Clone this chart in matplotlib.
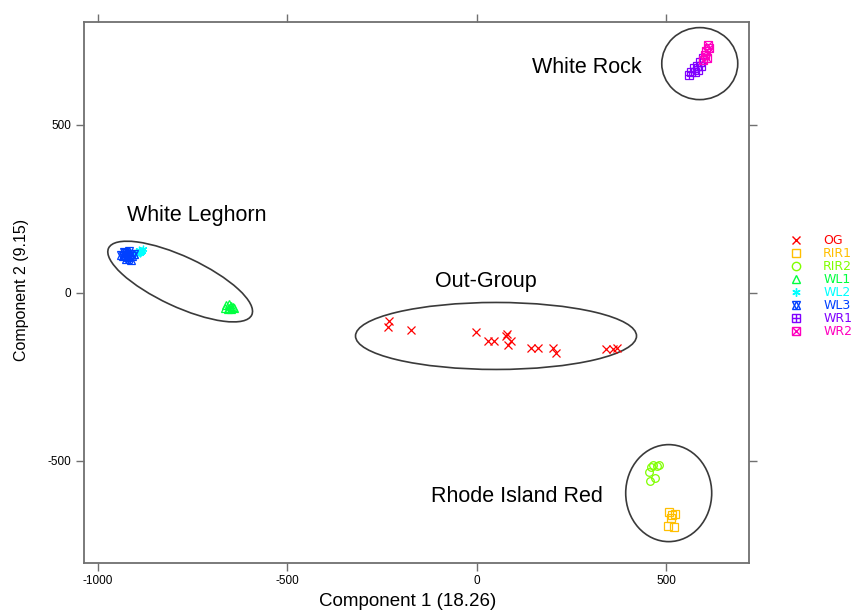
import matplotlib
matplotlib.use("Agg")
import matplotlib.pyplot as plt
import matplotlib.transforms as mtransforms
from matplotlib.lines import Line2D
from matplotlib.patches import Ellipse

plt.rcParams["font.family"] = ["Liberation Sans", "DejaVu Sans"]

# PCA scores (Component 1, Component 2)
og_x = [-232, -235, -174, -3, 29, 45, 79, 77, 90, 82, 143, 161, 201, 209, 341, 359, 370]
og_y = [-83, -101, -110, -116, -143, -143, -122, -128, -143, -155, -164, -164, -164, -179, -167, -167, -164]
rir1_x = [507, 523, 512, 504, 520, 515]
rir1_y = [-652, -658, -670, -696, -699, -662]
rir2_x = [465, 481, 454, 457, 470, 475, 460]
rir2_y = [-512, -512, -533, -560, -551, -515, -520]
wl1_x = [-662, -655, -648, -658, -650, -665, -643, -653, -640]
wl1_y = [-38, -45, -40, -50, -48, -46, -44, -35, -47]
wl2_x = [-900, -893, -885, -890, -880, -897, -887]
wl2_y = [122, 128, 125, 118, 130, 115, 120]
wl3_x = [-935, -928, -920, -915, -925, -910, -930, -918, -905, -940, -922, -912]
wl3_y = [110, 118, 105, 115, 100, 108, 122, 125, 115, 112, 112, 98]
wr1_x = [597, 589, 581, 573, 565, 576, 560, 584, 592]
wr1_y = [699, 688, 676, 670, 658, 658, 649, 664, 676]
wr2_x = [611, 614, 605, 602, 608, 597]
wr2_y = [738, 729, 720, 708, 699, 693]

groups = ["OG", "RIR1", "RIR2", "WL1", "WL2", "WL3", "WR1", "WR2"]
colors = ["#FF0000", "#FFBF00", "#80FF00", "#00FF40", "#00FFFF", "#0040FF", "#8000FF", "#FF00BF"]
xs = [og_x, rir1_x, rir2_x, wl1_x, wl2_x, wl3_x, wr1_x, wr2_x]
ys = [og_y, rir1_y, rir2_y, wl1_y, wl2_y, wl3_y, wr1_y, wr2_y]
# each group drawn as one or more overlaid marker shapes
shapes = [["x"], ["s"], ["o"], ["^"], [(6, 2, 0)], ["^", "v"], ["s", "+"], ["s", "x"]]

# cluster labels and ellipses (center in data units, axes in pixels, angle)
cluster_names = ["White Rock", "White Leghorn", "Out-Group", "Rhode Island Red"]
cluster_label_pos = [(290, 670), (-740, 229), (24, 33), (105, -607)]
ellipses = [((589, 682), 76, 72, 0), ((-783, 33), 158, 50, -25),
            ((51, -129), 281, 67, 0), ((507, -597), 86, 97, 0)]

fig = plt.figure(figsize=(8.63, 6.12), dpi=100)
ax = fig.add_axes([0.0973, 0.0801, 0.7706, 0.8840])

for gx, gy, col, shp in zip(xs, ys, colors, shapes):
    for m in shp:
        ax.plot(gx, gy, linestyle="none", marker=m, markersize=5.5,
                markerfacecolor="none", markeredgecolor=col, markeredgewidth=0.9)

for (cx, cy), w, h, ang in ellipses:
    tr = fig.dpi_scale_trans + mtransforms.ScaledTranslation(cx, cy, ax.transData)
    ax.add_patch(Ellipse((0, 0), w / 100, h / 100, angle=ang, transform=tr,
                         fill=False, edgecolor="#3a3a3a", linewidth=1.2))

for name, (lx, ly) in zip(cluster_names, cluster_label_pos):
    ax.text(lx, ly, name, fontsize=15.5, ha="center", va="center")

ax.set_xlim(-1037, 719)
ax.set_ylim(-805, 806)
ax.set_xticks([-1000, -500, 0, 500], ["-1000", "-500", "0", "500"])
ax.set_yticks([-500, 0, 500], ["-500", "0", "500"])
ax.tick_params(direction="out", length=6, width=1, color="#707070",
               labelsize=8.5, top=True, right=True, pad=3)
for spine in ax.spines.values():
    spine.set_color("#707070")
    spine.set_linewidth(1.3)
ax.set_xlabel("Component 1 (18.26)", fontsize=13.5)
ax.set_ylabel("Component 2 (9.15)", fontsize=11.5)
ax.xaxis.set_label_coords(0.486, -0.056)
ax.yaxis.set_label_coords(-0.082, 0.505)

handles = []
for col, shp in zip(colors, shapes):
    handles.append(tuple(Line2D([], [], linestyle="none", marker=m, markersize=6,
                                markerfacecolor="none", markeredgecolor=col,
                                markeredgewidth=1.0) for m in shp))
leg = fig.legend(handles, groups, loc="center left", bbox_to_anchor=(0.906, 0.532),
                 frameon=False, prop={"family": "DejaVu Sans", "size": 9},
                 labelspacing=0.0, handlelength=1.2, handletextpad=1.6, borderpad=0)
for text, col in zip(leg.get_texts(), colors):
    text.set_color(col)

fig.savefig("out.png", dpi=100)
